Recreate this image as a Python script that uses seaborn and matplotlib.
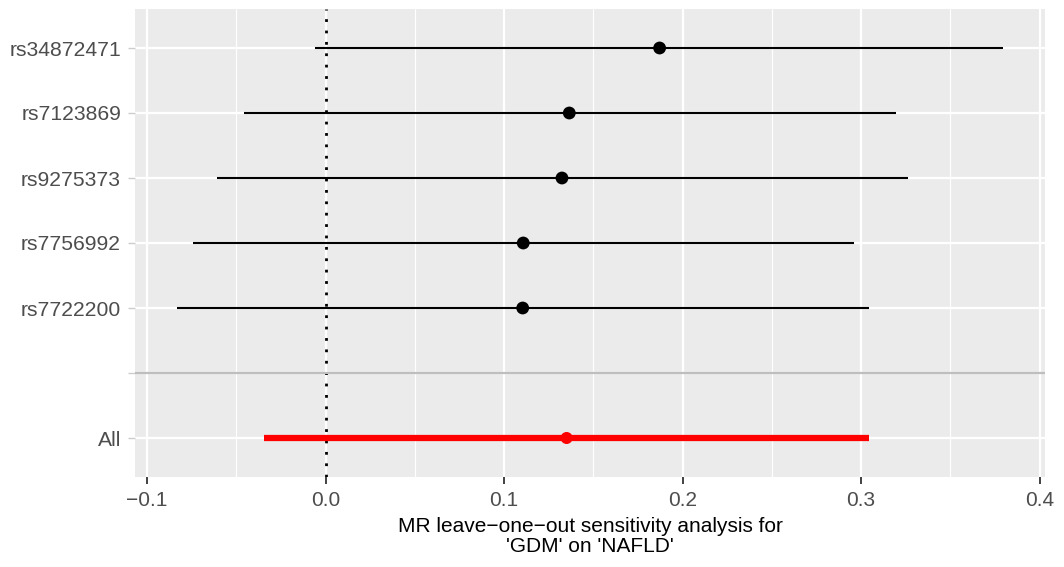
import matplotlib
matplotlib.use("Agg")
import matplotlib.pyplot as plt
from matplotlib.ticker import MultipleLocator
import seaborn as sns
import pandas as pd
import numpy as np

# data (top to bottom)
snps = ["rs34872471", "rs7123869", "rs9275373", "rs7756992", "rs7722200"]
b = [0.1871, 0.1365, 0.1324, 0.1107, 0.1104]
lo = [-0.0060, -0.0456, -0.0611, -0.0742, -0.0835]
up = [0.3796, 0.3193, 0.3261, 0.2960, 0.3045]
all_label = "All"
all_b = 0.1350
all_lo = -0.0344
all_up = 0.3045
x_ticks = [-0.1, 0.0, 0.1, 0.2, 0.3, 0.4]
xlabel = "MR leave\u2212one\u2212out sensitivity analysis for\n'GDM' on 'NAFLD'"

sns.set_theme(style="darkgrid", rc={
    "axes.facecolor": "#EBEBEB",
    "grid.color": "white",
})
plt.rcParams["font.family"] = ["Liberation Sans", "DejaVu Sans"]

# y positions: All at 1, blank at 2, SNPs 3..7 (bottom to top)
labels_bottom_up = [all_label, ""] + snps[::-1]
pos = {lab: i + 1 for i, lab in enumerate(labels_bottom_up)}

df = pd.DataFrame({"SNP": snps, "b": b, "lo": lo, "up": up})
df["y"] = df["SNP"].map(pos)
dfa = pd.DataFrame({"SNP": [all_label], "b": [all_b], "lo": [all_lo], "up": [all_up]})
dfa["y"] = dfa["SNP"].map(pos)

fig = plt.figure(figsize=(10.64, 5.67), dpi=100)
ax = fig.add_axes([135/1064, 1 - 477/567, (1045-135)/1064, (477-9)/567])

ax.set_xlim(-0.1068, 0.403)
ax.set_ylim(0.4, 7.6)

# grid
ax.xaxis.set_major_locator(plt.FixedLocator(x_ticks))
ax.xaxis.set_minor_locator(MultipleLocator(0.05))
ax.set_yticks(list(pos.values()))
ax.set_yticklabels(list(pos.keys()))
ax.grid(False)
ax.grid(True, which="major", axis="both", color="white", linewidth=1.6, zorder=0)
ax.grid(True, which="minor", axis="x", color="white", linewidth=0.8, zorder=0)
ax.set_axisbelow(True)

# reference lines
ax.axvline(0, color="black", linestyle=(0, (1, 3.1)), linewidth=2.0, zorder=2)
ax.axhline(pos[""], color="#BEBEBE", linewidth=1.6, zorder=2)

# CIs
ax.hlines(df["y"], df["lo"], df["up"], color="black", linewidth=1.5, zorder=3)
ax.hlines(dfa["y"], dfa["lo"], dfa["up"], color="red", linewidth=4.5, zorder=3)

# points
sns.scatterplot(data=df, x="b", y="y", color="black", s=85, edgecolor="none", ax=ax, zorder=4, legend=False)
sns.scatterplot(data=dfa, x="b", y="y", color="red", s=75, edgecolor="none", ax=ax, zorder=4, legend=False)

for s in ax.spines.values():
    s.set_visible(False)

ax.tick_params(axis="x", which="major", length=5, width=1.3, color="#333333",
               labelsize=15, labelcolor="#4D4D4D", pad=5, bottom=True)
ax.tick_params(axis="x", which="minor", length=0)
ax.tick_params(axis="y", which="major", length=5, width=1.0, color="#CCCCCC",
               labelsize=15.2, labelcolor="#4D4D4D", pad=5, left=True)

ax.set_xlabel(xlabel, fontsize=15, color="black", labelpad=5, linespacing=1.1)
ax.set_ylabel("")

fig.savefig("out.png", dpi=100)
